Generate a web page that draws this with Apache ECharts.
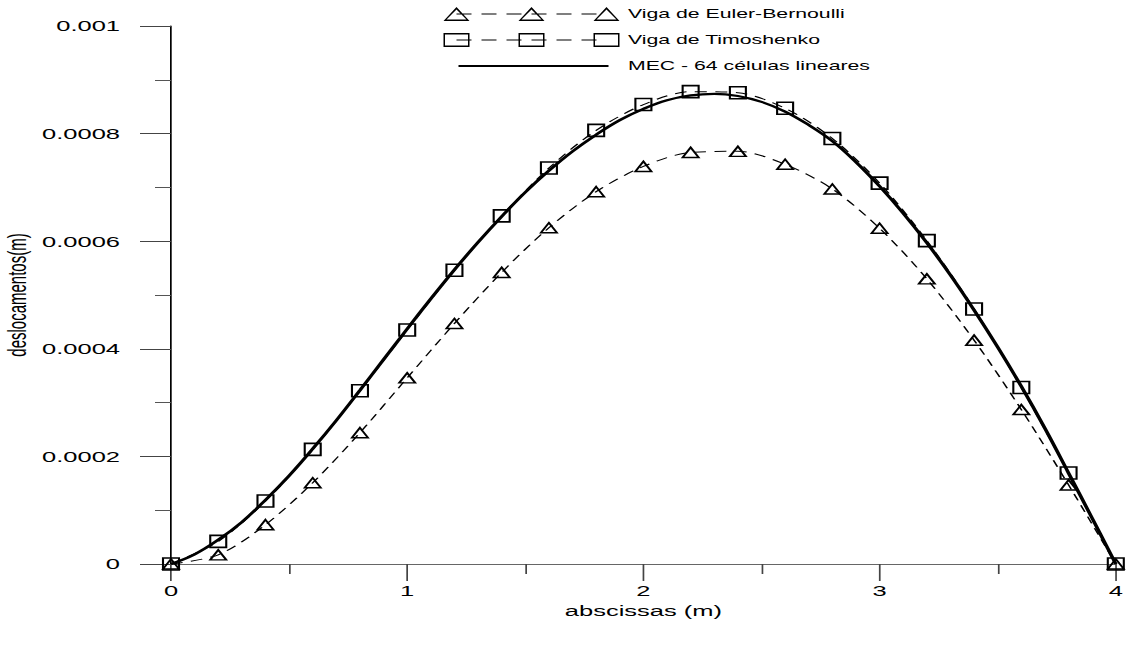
<!DOCTYPE html>
<html>
<head>
<meta charset="utf-8">
<script src="https://cdn.jsdelivr.net/npm/echarts@6/dist/echarts.min.js"></script>
<style>
html, body { margin: 0; padding: 0; background: #fff; overflow: hidden; }
#chart { height: 655px; transform-origin: 0 0; }
</style>
</head>
<body>
<div id="chart"></div>
<script>
// the reference plot is stretched horizontally, so draw narrow and stretch
var STRETCH = 1.7;
var FONT = 'Liberation Sans, Arial, sans-serif';

var xPoints = [0, 0.2, 0.4, 0.6, 0.8, 1.0, 1.2, 1.4, 1.6, 1.8, 2.0, 2.2, 2.4, 2.6, 2.8, 3.0, 3.2, 3.4, 3.6, 3.8, 4.0];
var eulerValues = [0, 0.000017, 0.000073, 0.000151, 0.000244, 0.000346, 0.000447, 0.000542, 0.000625, 0.000692, 0.000739,
	0.000765, 0.000767, 0.000743, 0.000697, 0.000624, 0.000530, 0.000416, 0.000287, 0.000147, 0];
var timoshenkoValues = [0, 0.000042, 0.000117, 0.000213, 0.000322, 0.000435, 0.000546, 0.000647, 0.000736, 0.000806, 0.000854,
	0.000878, 0.000876, 0.000847, 0.000791, 0.000708, 0.000601, 0.000474, 0.000328, 0.000169, 0];
var mecX = [0, 0.1, 0.2, 0.3, 0.4, 0.5, 0.6, 0.7, 0.8, 0.9, 1.0, 1.1, 1.2, 1.3, 1.4, 1.5, 1.6, 1.7, 1.8, 1.9, 2.0,
	2.1, 2.2, 2.3, 2.4, 2.5, 2.6, 2.7, 2.8, 2.9, 3.0, 3.1, 3.2, 3.3, 3.4, 3.5, 3.6, 3.7, 3.8, 3.9, 4.0];
var mecValues = [0, 0.000018, 0.000045, 0.000078, 0.000119, 0.000164, 0.000214, 0.000267, 0.000323, 0.000380, 0.000437,
	0.000493, 0.000547, 0.000598, 0.000646, 0.000691, 0.000731, 0.000767, 0.000798, 0.000825, 0.000846,
	0.000862, 0.000871, 0.000874, 0.000870, 0.000859, 0.000841, 0.000816, 0.000786, 0.000747, 0.000702,
	0.000652, 0.000597, 0.000537, 0.000472, 0.000403, 0.000330, 0.000252, 0.000169, 0.000085, 0];

var seriesNames = ['Viga de Euler-Bernoulli', 'Viga de Timoshenko', 'MEC - 64 células lineares'];

function pairs(xs, ys) {
	return xs.map(function (x, i) { return [x, ys[i]]; });
}

// legend icons (drawn in a 176 x 14 box)
function dashPath() {
	var s = '';
	for (var x = 13; x < 163; x += 25) {
		s += 'M' + x + ',6.4H' + Math.min(x + 15, 163) + 'V7.6H' + x + 'Z';
	}
	return s;
}
function triangleIcon() {
	var s = '';
	[13, 88, 163].forEach(function (cx) {
		s += 'M' + (cx - 13) + ',14L' + cx + ',0L' + (cx + 13) + ',14Z';
		s += 'M' + (cx - 10) + ',12.6L' + (cx + 10) + ',12.6L' + cx + ',2.6Z';
	});
	return 'path://' + s + dashPath();
}
function squareIcon() {
	var s = '';
	[13, 88, 163].forEach(function (cx) {
		s += 'M' + (cx - 13) + ',0H' + (cx + 13) + 'V14H' + (cx - 13) + 'Z';
		s += 'M' + (cx - 11.5) + ',1.5V12.5H' + (cx + 11.5) + 'V1.5Z';
	});
	return 'path://' + s + dashPath();
}
function lineIcon() {
	return 'path://M0,0H0.01V0.01H0Z M175.99,13.99H176V14H175.99Z M15,6H165V8H15Z';
}

var dom = document.getElementById('chart');
dom.style.width = (1129 / STRETCH) + 'px';
dom.style.transform = 'scaleX(' + STRETCH + ')';
var chart = echarts.init(dom, null, { renderer: 'svg' });

var option = {
	animation: false,
	backgroundColor: '#fff',
	grid: {
		left: 171 / STRETCH,
		right: 1129 / STRETCH - 1116 / STRETCH,
		top: 26,
		bottom: 91,
		outerBoundsMode: 'none'
	},
	legend: {
		orient: 'vertical',
		left: 435 / STRETCH,
		top: 2,
		itemWidth: 176 / STRETCH,
		itemHeight: 14,
		itemGap: 12,
		symbolKeepAspect: false,
		selectedMode: false,
		itemStyle: { color: '#000', borderWidth: 0 },
		textStyle: { fontFamily: FONT, fontSize: 12.5, color: '#000' },
		data: [
			{ name: seriesNames[0], icon: triangleIcon() },
			{ name: seriesNames[1], icon: squareIcon() },
			{ name: seriesNames[2], icon: lineIcon() }
		]
	},
	xAxis: {
		type: 'value',
		min: 0,
		max: 4,
		interval: 1,
		name: 'abscissas (m)',
		nameLocation: 'middle',
		nameGap: 39,
		nameMoveOverlap: false,
		nameTextStyle: { fontFamily: FONT, fontSize: 15, color: '#000' },
		axisLine: { onZero: false, lineStyle: { color: '#666', width: 1 } },
		axisTick: { length: 17, lineStyle: { color: '#444' } },
		minorTick: { show: true, splitNumber: 2, length: 10, lineStyle: { color: '#444' } },
		axisLabel: { margin: 19, fontFamily: FONT, fontSize: 15, color: '#000' },
		splitLine: { show: false }
	},
	yAxis: {
		type: 'value',
		min: 0,
		max: 0.001,
		interval: 0.0002,
		name: 'deslocamentos(m)',
		nameLocation: 'middle',
		nameGap: 83,
		nameMoveOverlap: false,
		nameTextStyle: { fontFamily: FONT, fontSize: 15, color: '#000' },
		axisLine: { show: true, lineStyle: { color: '#000', width: 1 } },
		axisTick: { show: true, length: 31 / STRETCH, lineStyle: { color: '#444' } },
		minorTick: { show: true, splitNumber: 2, length: 16 / STRETCH, lineStyle: { color: '#555' } },
		axisLabel: {
			margin: 51 / STRETCH,
			fontFamily: FONT,
			fontSize: 15,
			color: '#000',
			formatter: function (v) { return String(parseFloat(v.toFixed(4))); }
		},
		splitLine: { show: false }
	},
	series: [
		{
			name: seriesNames[0],
			type: 'line',
			data: pairs(xPoints, eulerValues),
			smooth: 0.3,
			symbol: 'triangle',
			symbolSize: [16 / STRETCH, 10],
			itemStyle: { color: 'rgba(0,0,0,0)', borderColor: '#000', borderWidth: 1.4 },
			lineStyle: { color: '#000', width: 1, type: [7, 5] },
			z: 3
		},
		{
			name: seriesNames[1],
			type: 'line',
			data: pairs(xPoints, timoshenkoValues),
			smooth: 0.3,
			symbol: 'rect',
			symbolSize: [16 / STRETCH, 12],
			itemStyle: { color: 'rgba(0,0,0,0)', borderColor: '#000', borderWidth: 1.4 },
			lineStyle: { color: '#000', width: 1, type: [7, 5] },
			z: 3
		},
		{
			name: seriesNames[2],
			type: 'line',
			data: pairs(mecX, mecValues),
			smooth: 0.4,
			symbol: 'none',
			showSymbol: false,
			itemStyle: { color: '#000' },
			lineStyle: { color: '#000', width: 2.2 },
			z: 2
		}
	]
};
chart.setOption(option);
</script>
</body>
</html>
